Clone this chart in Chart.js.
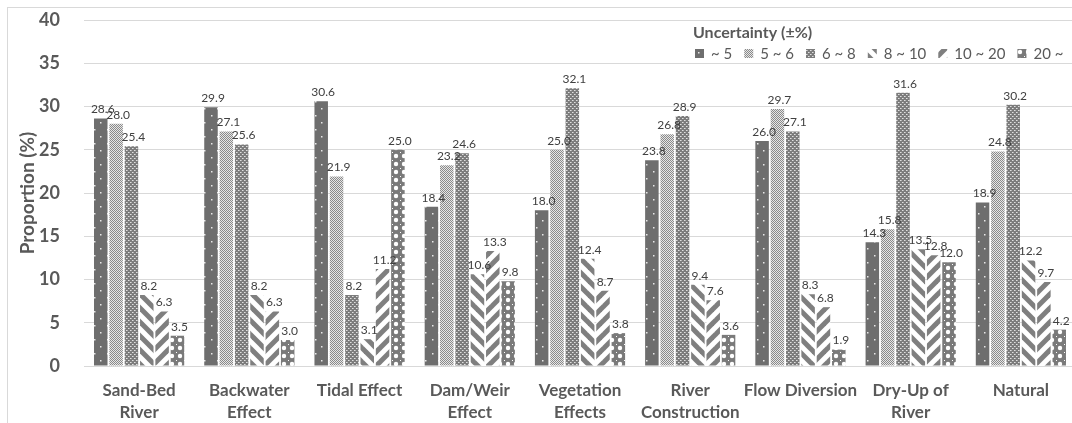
<!DOCTYPE html>
<html>
<head>
<meta charset="utf-8">
<script src="https://cdn.jsdelivr.net/npm/chart.js@4.4.1/dist/chart.umd.min.js"></script>
<style>
  html, body { margin: 0; padding: 0; background: #fff; overflow: hidden; }
  #wrap { width: 1076px; height: 423px; }
</style>
</head>
<body>
<div id="wrap"><canvas id="uncertaintyChart"></canvas></div>
<script>
const categories = [['Sand-Bed', 'River'], ['Backwater', 'Effect'], 'Tidal Effect', ['Dam/Weir', 'Effect'],
    ['Vegetation', 'Effects'], ['River', 'Construction'], 'Flow Diversion', ['Dry-Up of', 'River'], 'Natural'];
const seriesNames = ['~ 5', '5 ~ 6', '6 ~ 8', '8 ~ 10', '10 ~ 20', '20 ~'];
const upTo5 = [28.6, 29.9, 30.6, 18.4, 18.0, 23.8, 26.0, 14.3, 18.9];
const from5to6 = [28.0, 27.1, 21.9, 23.2, 25.0, 26.8, 29.7, 15.8, 24.8];
const from6to8 = [25.4, 25.6, 8.2, 24.6, 32.1, 28.9, 27.1, 31.6, 30.2];
const from8to10 = [8.2, 8.2, 3.1, 10.6, 12.4, 9.4, 8.3, 13.5, 12.2];
const from10to20 = [6.3, 6.3, 11.2, 13.3, 8.7, 7.6, 6.8, 12.8, 9.7];
const over20 = [3.5, 3.0, 25.0, 9.8, 3.8, 3.6, 1.9, 12.0, 4.2];
const yTicks = [0, 5, 10, 15, 20, 25, 30, 35, 40];

const FONT = 'Lato, "Open Sans", sans-serif';
const TEXT = '#595959';
const GRID = '#d9d9d9';

function makePattern(w, h, draw) {
    const c = document.createElement('canvas');
    c.width = w;
    c.height = h;
    const g = c.getContext('2d');
    draw(g, w, h);
    return g.createPattern(c, 'repeat');
}

// Excel-like pattern fills
const patterns = [
    makePattern(13, 14, (g, w, h) => {
        g.fillStyle = '#6e6e6e'; g.fillRect(0, 0, w, h);
        g.fillStyle = '#e8e8e8'; g.fillRect(3, 3, 1.5, 1.5); g.fillRect(9, 10, 1.5, 1.5);
    }),
    makePattern(2, 2, (g) => {
        g.fillStyle = '#e6e6e6'; g.fillRect(0, 0, 2, 2);
        g.fillStyle = '#8a8a8a'; g.fillRect(0, 0, 1, 1); g.fillRect(1, 1, 1, 1);
    }),
    makePattern(4, 4, (g) => {
        g.fillStyle = '#7c7c7c'; g.fillRect(0, 0, 4, 4);
        g.fillStyle = '#e0e0e0'; g.fillRect(0, 0, 1, 1); g.fillRect(2, 2, 1, 1);
        g.fillStyle = '#b5b5b5'; g.fillRect(1, 0, 1, 1); g.fillRect(3, 2, 1, 1);
    }),
    makePattern(14, 14, (g, w, h) => {
        g.fillStyle = '#ffffff'; g.fillRect(0, 0, w, h);
        g.strokeStyle = '#7f7f7f'; g.lineWidth = 5;
        [-14, 0, 14].forEach(k => { g.beginPath(); g.moveTo(k - 2, -2); g.lineTo(k + 16, 16); g.stroke(); });
    }),
    makePattern(14, 14, (g, w, h) => {
        g.fillStyle = '#ffffff'; g.fillRect(0, 0, w, h);
        g.strokeStyle = '#7f7f7f'; g.lineWidth = 5;
        [-14, 0, 14].forEach(k => { g.beginPath(); g.moveTo(k - 2, 16); g.lineTo(k + 16, -2); g.stroke(); });
    }),
    makePattern(8, 8, (g, w, h) => {
        g.fillStyle = '#7a7a7a'; g.fillRect(0, 0, w, h);
        g.fillStyle = '#ffffff';
        g.beginPath(); g.arc(4, 4, 2.2, 0, Math.PI * 2); g.fill();
        g.fillRect(0, 0, 1, 1);
    })
];

const seriesData = [upTo5, from5to6, from6to8, from8to10, from10to20, over20];

const framePlugin = {
    id: 'frame',
    beforeDraw(chart) {
        const ctx = chart.ctx;
        ctx.save();
        ctx.strokeStyle = GRID;
        ctx.lineWidth = 1;
        ctx.strokeRect(7.5, 7.5, chart.width, chart.height);
        ctx.restore();
    }
};

const valueLabels = {
    id: 'valueLabels',
    afterDatasetsDraw(chart) {
        const ctx = chart.ctx;
        ctx.save();
        ctx.font = '12px ' + FONT;
        ctx.fillStyle = '#404040';
        ctx.textAlign = 'center';
        ctx.textBaseline = 'bottom';
        chart.data.datasets.forEach((ds, i) => {
            chart.getDatasetMeta(i).data.forEach((bar, j) => {
                ctx.fillText(ds.data[j].toFixed(1), bar.x + 2, bar.y - 3);
            });
        });
        ctx.restore();
    }
};

const patternLegend = {
    id: 'patternLegend',
    afterDraw(chart) {
        const ctx = chart.ctx;
        ctx.save();
        ctx.fillStyle = TEXT;
        ctx.textBaseline = 'middle';
        ctx.font = 'bold 16px ' + FONT;
        ctx.fillText('Uncertainty (±%)', 693, 33);
        ctx.font = '15px ' + FONT;
        let x = 695;
        chart.data.datasets.forEach(ds => {
            ctx.fillStyle = ds.backgroundColor;
            ctx.fillRect(x, 49, 9, 9);
            ctx.fillStyle = TEXT;
            ctx.fillText(ds.label, x + 16, 54);
            x += 16 + ctx.measureText(ds.label).width + 12;
        });
        ctx.restore();
    }
};

new Chart(document.getElementById('uncertaintyChart'), {
    type: 'bar',
    data: {
        labels: categories,
        datasets: seriesNames.map((name, i) => ({
            label: name,
            data: seriesData[i],
            backgroundColor: patterns[i],
            borderWidth: 0,
            categoryPercentage: 0.835,
            barPercentage: 0.88
        }))
    },
    options: {
        responsive: true,
        maintainAspectRatio: false,
        animation: false,
        layout: { padding: { top: 20, right: 0, left: 0, bottom: 0 } },
        plugins: {
            legend: { display: false },
            tooltip: { enabled: false }
        },
        scales: {
            x: {
                grid: { display: false },
                border: { color: GRID },
                ticks: { color: TEXT, font: { family: FONT, size: 17, weight: 'bold', lineHeight: 1.3 }, padding: 5, maxRotation: 0, autoSkip: false },
                afterFit(scale) { scale.height = 57; }
            },
            y: {
                min: 0,
                max: 40,
                afterBuildTicks(scale) { scale.ticks = yTicks.map(v => ({ value: v })); },
                grid: { color: GRID, drawTicks: false },
                border: { display: false },
                ticks: { color: TEXT, font: { family: FONT, size: 18, weight: 'bold' }, padding: 24 },
                title: { display: true, text: 'Proportion (%)', color: TEXT, font: { family: FONT, size: 19, weight: 'bold' }, padding: { top: 16, bottom: 0 } },
                afterFit(scale) {
                    scale.width = 84;
                    scale.paddingTop = 0;
                    scale.paddingBottom = 0;
                }
            }
        }
    },
    plugins: [framePlugin, valueLabels, patternLegend]
});
</script>
</body>
</html>
